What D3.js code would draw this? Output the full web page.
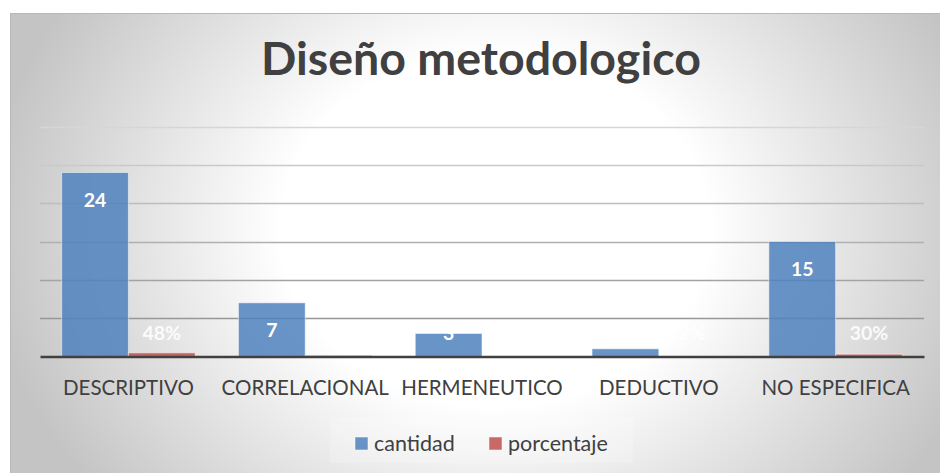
<!DOCTYPE html>
<html>
<head>
<meta charset="utf-8">
<script src="https://cdn.jsdelivr.net/npm/d3@7"></script>
<style>
  body { margin: 0; background: #fff; }
  svg { display: block; font-family: Lato, "Noto Sans", sans-serif; }
</style>
</head>
<body>
<script>
var w = 940;
var h = 473;

var categories = ["DESCRIPTIVO", "CORRELACIONAL", "HERMENEUTICO", "DEDUCTIVO", "NO ESPECIFICA"];
var cantidad = [24, 7, 3, 1, 15];
var porcentaje = [0.48, 0.14, 0.06, 0.02, 0.30];
var porcentajeLabels = ["48%", "14%", "6%", "2%", "30%"];
var seriesNames = ["cantidad", "porcentaje"];
var yTicks = [0, 5, 10, 15, 20, 25, 30];

var colors = { cantidad: "#4f81bd", porcentaje: "#c0504d" };

var plot = { left: 40, right: 924, top: 126.5, bottom: 356.5 };

var svg = d3.select("body")
    .append("svg")
    .attr("width", w)
    .attr("height", h);

var defs = svg.append("defs");
var bg = defs.append("radialGradient")
    .attr("id", "bg")
    .attr("gradientUnits", "userSpaceOnUse")
    .attr("cx", 0).attr("cy", 0).attr("r", 1)
    .attr("gradientTransform", "translate(495,230) scale(510,420)");
bg.append("stop").attr("offset", 0.42).attr("stop-color", "#ffffff");
bg.append("stop").attr("offset", 1).attr("stop-color", "#c4c4c4");

// chart area
svg.append("rect")
    .attr("x", 10.5).attr("y", 13.5)
    .attr("width", w - 10).attr("height", h - 13)
    .attr("fill", "url(#bg)")
    .attr("stroke", "#b8b8b8");

var x = d3.scaleBand()
    .domain(categories)
    .range([plot.left, plot.right])
    .paddingInner(0.245)
    .paddingOuter(0.1225);

var xs = d3.scaleBand()
    .domain(seriesNames)
    .range([0, x.bandwidth()]);

var y = d3.scaleLinear()
    .domain([0, 30])
    .range([plot.bottom, plot.top]);

var gridColor = d3.scaleLinear().domain([0, 30]).range(["#8a8a8a", "#d6d6d6"]);

// gridlines
svg.append("g")
    .selectAll("line")
    .data(yTicks.slice(1))
    .enter()
    .append("line")
    .attr("x1", plot.left)
    .attr("x2", plot.right)
    .attr("y1", function (d) { return Math.round(y(d)) + 0.5; })
    .attr("y2", function (d) { return Math.round(y(d)) + 0.5; })
    .attr("stroke", function (d) { return gridColor(d); })
    .attr("stroke-width", 1.3);

var data = categories.map(function (c, i) {
    return { cat: c, cantidad: cantidad[i], porcentaje: porcentaje[i], pl: porcentajeLabels[i] };
});

var groups = svg.append("g")
    .selectAll("g")
    .data(data)
    .enter()
    .append("g")
    .attr("transform", function (d) { return "translate(" + x(d.cat) + ",0)"; });

groups.selectAll("rect")
    .data(function (d) {
        return seriesNames.map(function (s) { return { s: s, v: d[s] }; });
    })
    .enter()
    .append("rect")
    .attr("x", function (d) { return xs(d.s); })
    .attr("y", function (d) { return y(d.v); })
    .attr("width", xs.bandwidth())
    .attr("height", function (d) { return y(0) - y(d.v); })
    .attr("fill", function (d) { return colors[d.s]; })
    .attr("fill-opacity", 0.85)
    .attr("stroke", "#ffffff")
    .attr("stroke-opacity", 0.5)
    .attr("stroke-width", 1);

// value labels
function labelY(v) {
    return Math.min(y(v) + 27, y(0) - 24);
}

groups.append("text")
    .attr("x", xs("cantidad") + xs.bandwidth() / 2)
    .attr("y", function (d) { return labelY(d.cantidad); })
    .attr("dy", "0.36em")
    .attr("text-anchor", "middle")
    .style("font-weight", "bold")
    .style("font-size", "19.5px")
    .style("fill", "#ffffff")
    .text(function (d) { return d.cantidad; });

groups.append("text")
    .attr("x", xs("porcentaje") + xs.bandwidth() / 2)
    .attr("y", function (d) { return labelY(d.porcentaje); })
    .attr("dy", "0.36em")
    .attr("text-anchor", "middle")
    .style("font-weight", "bold")
    .style("font-size", "19.5px")
    .style("fill", "#ffffff")
    .style("fill-opacity", 0.9)
    .text(function (d) { return d.pl; });

// x axis
var xAxis = svg.append("g")
    .attr("transform", "translate(0," + y(0) + ")")
    .call(d3.axisBottom(x).tickSize(0).tickPadding(24));
xAxis.select(".domain")
    .attr("stroke", "#404040")
    .attr("stroke-width", 2.5);
xAxis.selectAll("text")
    .style("font-family", "Lato, sans-serif")
    .style("font-size", "20.5px")
    .style("fill", "#404040");

// title
svg.append("text")
    .attr("x", 481)
    .attr("y", 75)
    .attr("text-anchor", "middle")
    .style("font-weight", "bold")
    .style("font-size", "46.5px")
    .style("fill", "#404040")
    .text("Diseño metodologico");

// legend
var legend = svg.append("g");
legend.append("rect")
    .attr("x", 330).attr("y", 418)
    .attr("width", 303).attr("height", 45)
    .attr("fill", "#ffffff")
    .attr("fill-opacity", 0.2);

var legendX = [355, 489];
var items = legend.selectAll("g")
    .data(seriesNames)
    .enter()
    .append("g")
    .attr("transform", function (d, i) { return "translate(" + legendX[i] + ",437)"; });
items.append("rect")
    .attr("width", 13).attr("height", 13)
    .attr("fill", function (d) { return colors[d]; })
    .attr("fill-opacity", 0.85)
    .attr("stroke", "#ffffff")
    .attr("stroke-opacity", 0.5);
items.append("text")
    .attr("x", 19)
    .attr("y", 6.5)
    .attr("dy", "0.36em")
    .style("font-size", "21.5px")
    .style("fill", "#404040")
    .text(function (d) { return d; });
</script>
</body>
</html>
